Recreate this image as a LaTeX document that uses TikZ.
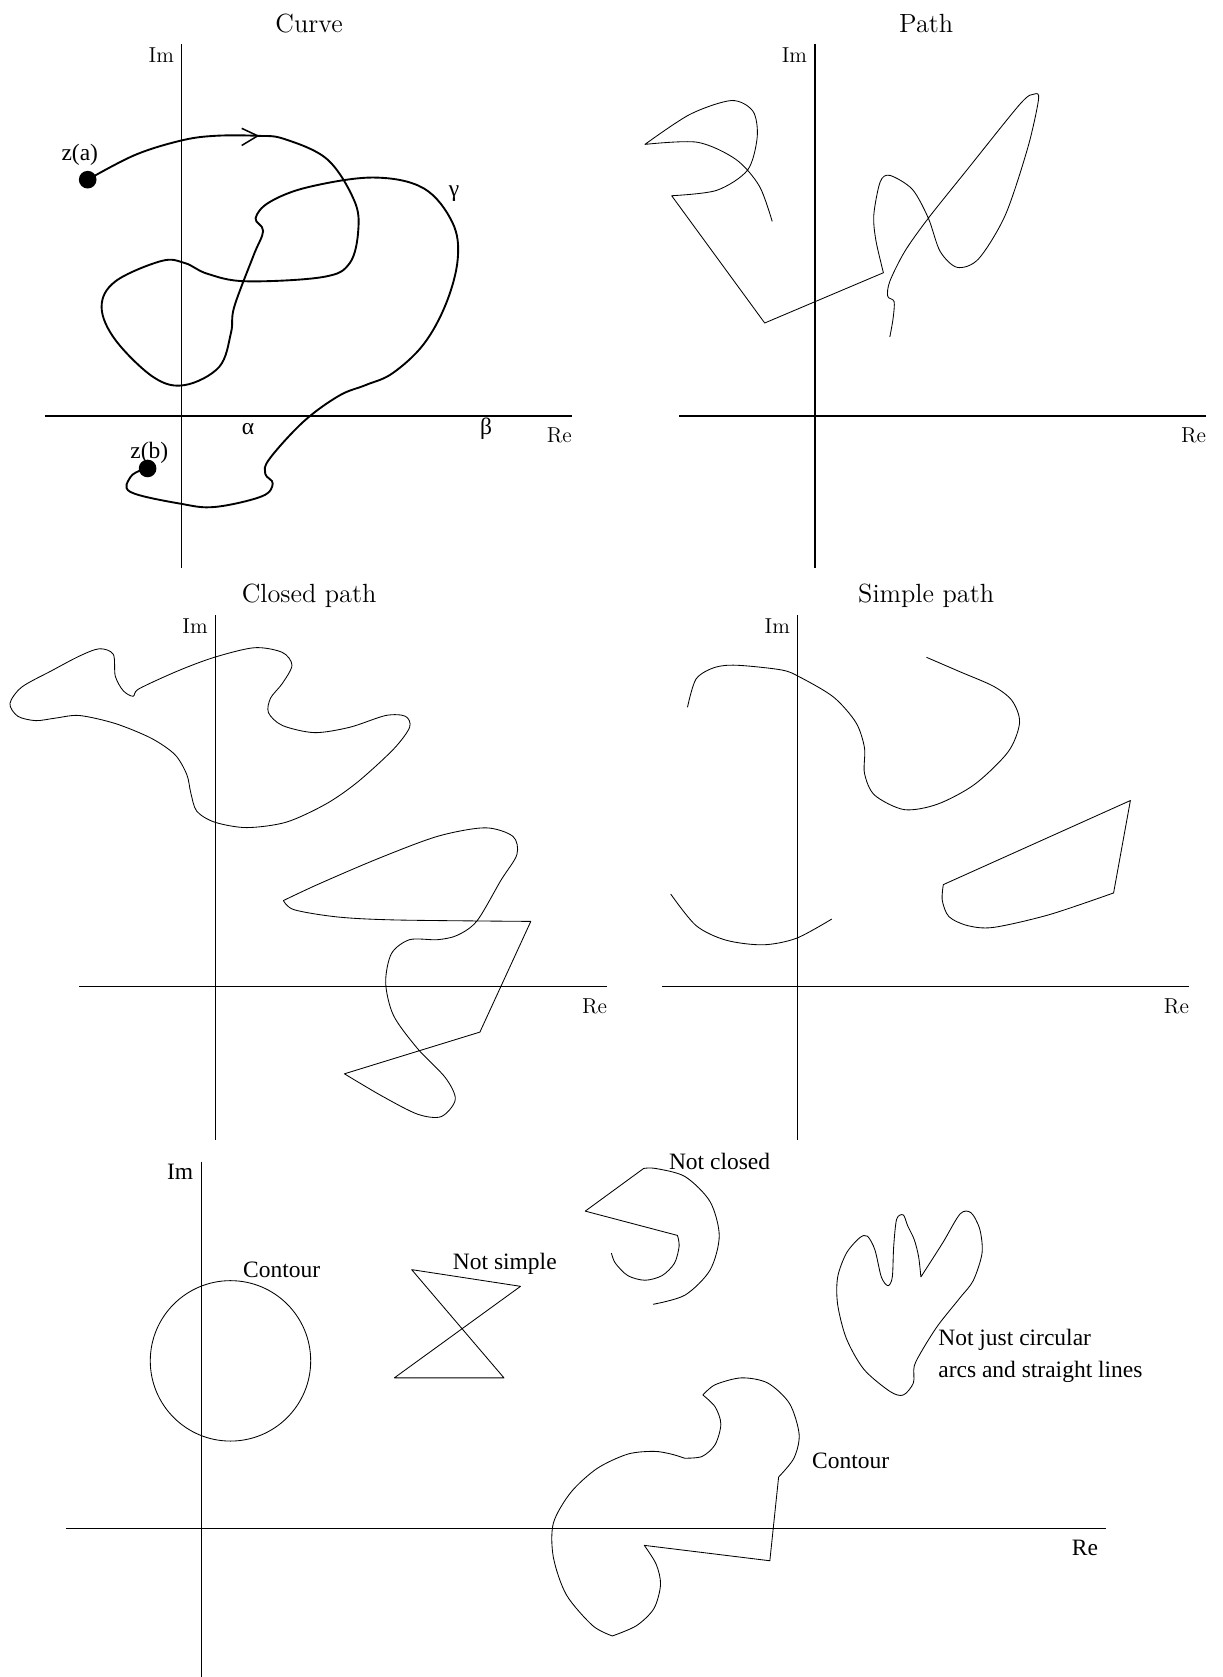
\documentclass[tikz,border=0pt]{standalone}
\usepackage{fontspec}
\newfontfamily\timesfont{Liberation Serif}
\begin{document}
\begin{tikzpicture}[x=0.02cm,y=-0.02cm,
  axis/.style={line width=0.6pt},
  ttl/.style={font=\fontsize{14}{17}\selectfont,inner sep=0,anchor=base},
  axlbl/.style={font=\fontsize{11.5}{14}\selectfont,inner sep=0,anchor=north east},
  tlbl/.style={font=\timesfont\fontsize{12.5}{17.2}\selectfont,inner sep=0},
  thinpath/.style={line width=0.45pt,line join=round},
  thickcurve/.style={line width=1pt,line join=round},
  zdot/.style={circle,fill,inner sep=0,minimum size=0.33cm}]
  \useasboundingbox (0,0) rectangle (1143,1568);
  % axes of the four upper panels
  \foreach \p/\ix/\ry/\xl/\xr/\yt/\yb in {1/170/389/42/535/41/531,
      2/762/389/635/1128/41/531, 3/201.5/922/74/568/575/1066,
      4/746/922/619/1112/575/1066} {
    \draw[axis] (\ix,\yt) -- (\ix,\yb);
    \draw[axis] (\xl,\ry) -- (\xr,\ry);
    \node[axlbl] (im\p) at (\ix-7,\yt+3) {Im};
    \node[axlbl] (re\p) at (\xr,\ry+11) {Re};
  }
  \node[ttl] (tcurve) at (289,30.5) {Curve};
  \node[ttl] (tpath) at (866,30.5) {Path};
  \node[ttl] (tclosed) at (289,563.5) {Closed path};
  \node[ttl] (tsimple) at (866,563.5) {Simple path};

  % Curve
  \draw[line width=1pt] (234,389) -- (457,389);
  \node[tlbl,anchor=base] (alpha) at (232,406.5) {α};
  \node[tlbl,anchor=base] (beta) at (454.5,406) {β};
  \node[tlbl,anchor=base] (gam) at (424.5,184) {γ};
  \node[tlbl,anchor=base] (zalbl) at (74.6,150.5) {z(a)};
  \node[tlbl,anchor=base] (zblbl) at (139.6,429) {z(b)};
  \node[zdot] (za) at (82,168) {};
  \node[zdot] (zb) at (138,438) {};
  \draw[thickcurve] plot[smooth,tension=0.6] coordinates {(za.center) (126,145)
    (169,131.5) (201,127) (241,127) (266,130) (306,149) (331,187) (335,215)
    (327,246) (302,259) (230,263) (194,256) (173,246) (151,244) (108,263)
    (95,287) (108,318) (144,353) (173,360) (205,343) (216,311) (219,287)
    (237,239) (246,216) (239,204) (252,189) (288,175) (349,166) (396,176)
    (423,208) (428,242) (417,284) (396,322) (367,349) (342,360) (317,370)
    (284,394) (252,429) (248,443) (255,452) (245,464) (201,474) (169,471)
    (122,460) (122,446) (133,439) (zb.center)};
  \draw[line width=0.8pt] (226,120) -- (241,127) -- (226,136);

  % Path
  \draw[thinpath] plot[smooth] coordinates {(722,207) (710,174) (688,149)
      (652,133) (603,135)}
    -- plot[smooth] coordinates {(603,135) (645,107) (684,94) (704,104)
      (708,128) (699,159) (670,178) (628,183)}
    -- (715,302) -- (826,255)
    -- plot[smooth] coordinates {(826,255) (819,225) (817,201) (823,170)
      (832,164) (853,177) (868,204) (879,235) (895,250) (915,242) (940,201)
      (961,138) (971,93) (967,88) (954,97) (904,159) (868,204) (846,235)
      (832,263) (830,277) (836,282) (835,298) (832,315)};

  % Closed path
  \draw[thinpath] plot[smooth cycle] coordinates {(130,644) (167,627)
    (201,614.4) (238,605.6) (264,610) (273,622) (264,639) (253,652.7)
    (251,666.3) (264,678.3) (294,685) (327,680) (360.6,669) (379,669.7)
    (383,680) (368,700.4) (334.6,731) (305,751.6) (267.7,768.7) (230.5,773.8)
    (200.7,768.7) (184,758.5) (178.4,741.4) (174.7,724.3) (163.6,705.6)
    (141.3,690.2) (107.8,676.5) (74.3,669) (52,671.4) (33.5,673.8)
    (16.7,669.7) (9.3,657.8) (20.4,642.4) (48.3,627.1) (74.3,613.4)
    (92.9,606.6) (105.9,611.7) (107.8,632.2) (115.2,645.8) (124.5,651)};
  \draw[thinpath] plot[smooth] coordinates {(265,842) (297,827) (353,803)
      (409,782) (453.5,774) (479.6,782) (483.3,799) (468.4,823) (446,861)
      (427.5,874.5) (409,878.6) (383,878.6) (366,891.6) (360.6,919) (368,949.6)
      (390.3,980.3) (416.4,1007.6) (425.7,1028) (412.6,1044) (390.3,1041.7)
      (357,1024.7) (322,1004)}
    -- (448.7,965) -- (496.3,861.5)
    -- plot[smooth] coordinates {(496.3,861.5) (371.7,860.2) (316,857.4)
      (275,850.6) (265,842)} -- cycle;

  % Simple path
  \draw[thinpath] plot[smooth] coordinates {(642.8,661.3) (650.8,634.9)
    (668.1,624.1) (689,622) (730.7,626.4) (748.1,633.2) (779.4,651.8)
    (800.3,675.6) (808.3,699.3) (808.3,723) (817.7,743.4) (845.5,757)
    (876.8,751.8) (911.5,733.2) (942.8,702.7) (953.3,675.6) (946.3,655.2)
    (929,641.7) (897.6,628.1) (866.3,614.6)};
  \draw[thinpath] plot[smooth] coordinates {(627.1,835.9) (650.8,865.4)
    (678.6,879) (713.3,883.4) (744.6,877.3) (777.7,859.3)};
  \draw[thinpath] (882,827.1) -- (1056.9,748.5) -- (1041.2,834.9)
    -- plot[smooth] coordinates {(1041.2,834.9) (981.1,855.2) (929,867.1)
      (904.6,865.4) (887.2,857) (881,841.7) (882,827.1)};

  % contours
  \draw[axis] (188,1086) -- (188,1568);
  \draw[axis] (62,1429) -- (1034,1429);
  \node[tlbl,anchor=north east] (im5) at (181,1088) {Im};
  \node[tlbl,anchor=north east] (re5) at (1027,1440) {Re};
  \draw[thinpath] (215.5,1272.4) circle[radius=75];
  \node[tlbl,anchor=base] (contour1) at (263.3,1194.5) {Contour};
  \draw[thinpath] (384.9,1187.1) -- (486.7,1202.7) -- (368.7,1288.3)
    -- (471.2,1288.3) -- cycle;
  \node[tlbl,anchor=base] (notsimple) at (472,1187) {Not simple};
  \draw[thinpath] plot[smooth] coordinates {(610.7,1219.5) (640.5,1210.9)
      (663.9,1187.5) (672.5,1155.5) (663.9,1123.5) (640.5,1100.1) (613,1092.5)
      (601.8,1092.5)}
    -- (547.2,1132.4) -- (633.4,1155.1)
    -- plot[smooth] coordinates {(633.4,1155.1) (635,1165) (630.7,1181)
      (619,1192.7) (603,1197) (587,1192.7) (575.3,1181) (571.7,1171.7)};
  \node[tlbl,anchor=base] (notclosed) at (672.8,1093.5) {Not closed};
  \draw[thinpath] plot[smooth] coordinates {(861,1194) (881.4,1162.1)
    (897.7,1135) (908,1134) (916.1,1149.4) (918.2,1171.7) (910,1197.3)
    (897.7,1213.3) (877.3,1238.8) (863,1261.2) (854.8,1277.2) (854,1293.1)
    (844.6,1304.3) (832.3,1301.1) (807.8,1280.4) (791.4,1251.6) (783.2,1219.7)
    (783.2,1194.1) (791.4,1171.7) (803.7,1157.4) (811,1155.8) (818,1168.5)
    (824.1,1194.1) (830.3,1202.1) (834.3,1194.1) (835.6,1165.3) (838.4,1139.8)
    (844.6,1136) (848.7,1146.2) (854.8,1159) (858.9,1175) (861,1194)};
  \node[tlbl,anchor=north west,align=left] (notjust) at (877,1242.5)
    {Not just circular\\arcs and straight lines};
  \draw[thinpath] (728,1381) -- (719.8,1459.3) -- (602.4,1444.9)
    -- plot[smooth] coordinates {(602.4,1444.9) (613.5,1462.5) (617.6,1481.6)
      (611.4,1504) (595.1,1520) (572.6,1529.6)}
    -- plot[smooth] coordinates {(572.6,1529.6) (554.2,1520) (529.6,1491.2)
      (517.4,1456.1) (517.4,1424.1) (533.7,1395.4) (558.3,1373) (586.9,1359.6)
      (611.4,1357) (627.8,1359.6) (640.1,1363.4)}
    -- plot[smooth] coordinates {(640.1,1363.4) (656.4,1361.8) (668.7,1350.6)
      (674,1331.5) (668.7,1315.5) (657.2,1304.3)}
    -- plot[smooth] coordinates {(657.2,1304.3) (668.7,1294.7) (693.2,1288.3)
      (717.8,1293.1) (738.2,1312.3) (747.2,1341.1) (742.3,1363.4) (728,1381)}
    -- cycle;
  \node[tlbl,anchor=base] (contour2) at (795.3,1373.5) {Contour};
\end{tikzpicture}
\end{document}
